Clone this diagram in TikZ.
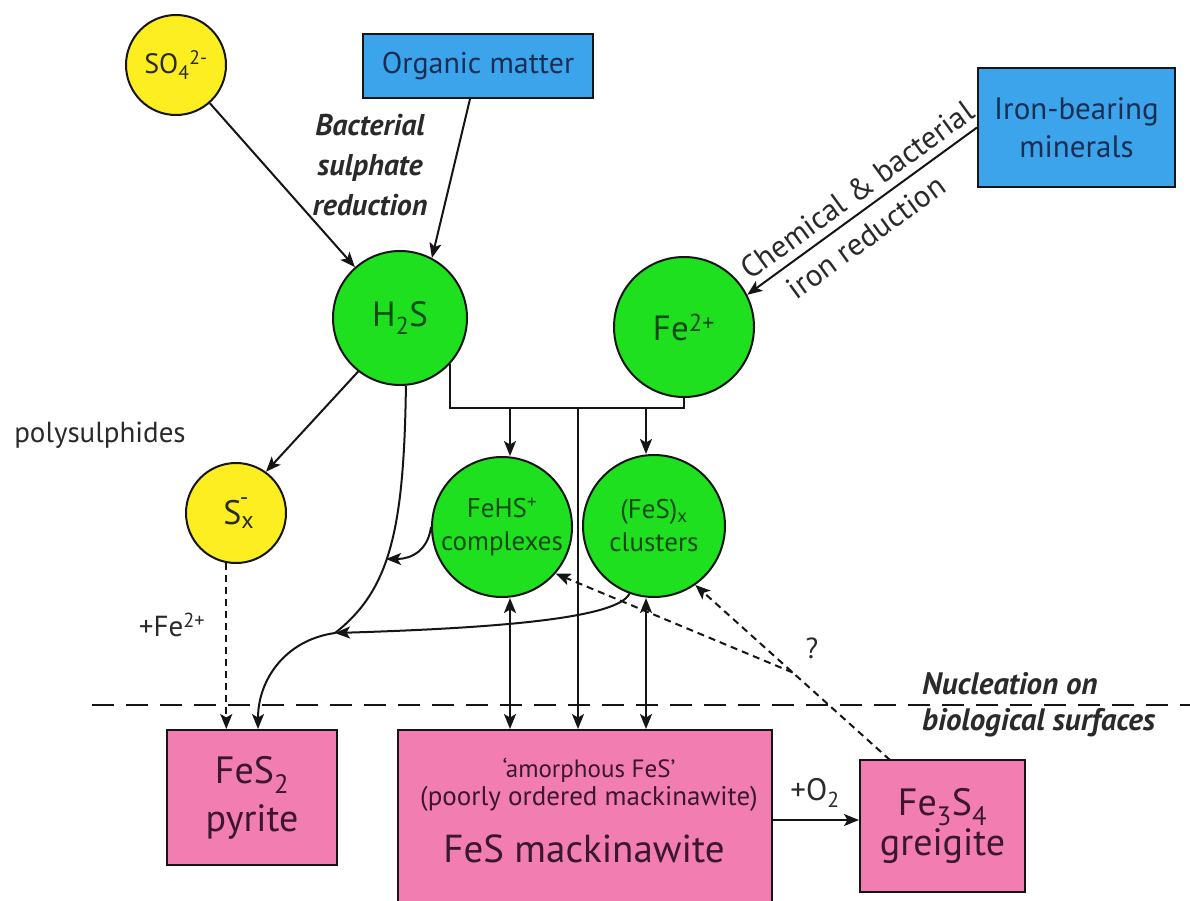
\documentclass[tikz,border=0pt]{standalone}
\usepackage{fontspec}
\setmainfont{PT Sans}
\usetikzlibrary{arrows.meta,calc}
\definecolor{cyel}{HTML}{FCEE21}
\definecolor{cgrn}{HTML}{1EE01E}
\definecolor{cblu}{HTML}{3BA4EA}
\definecolor{cpnk}{HTML}{F27DB1}
\definecolor{tnavy}{HTML}{1A2E55}
\definecolor{tgrn}{HTML}{0E4A12}
\definecolor{tpnk}{HTML}{3A1630}
\definecolor{tgry}{HTML}{2A2A2A}
\definecolor{lin}{HTML}{151515}
\newcommand\fsz[2]{\fontsize{#1}{#2}\selectfont}
\begin{document}
\begin{tikzpicture}[x=1pt,y=-1pt,
  tip/.tip={Stealth[length=15pt,width=12pt,inset=3.5pt]},
  arr/.style={draw=lin, line width=2pt, -tip},
  darr/.style={draw=lin, line width=2pt, tip-tip},
  plain/.style={draw=lin, line width=2pt},
  sdash/.style={dash pattern=on 7pt off 5pt},
  ycirc/.style={circle, draw=lin, line width=2pt, fill=cyel, inner sep=0pt, text=tgry},
  gcirc/.style={circle, draw=lin, line width=2pt, fill=cgrn, inner sep=0pt, text=tgrn, align=center},
  bbox/.style={rectangle, draw=lin, line width=2pt, fill=cblu, inner sep=0pt, text=tnavy, align=center},
  pbox/.style={rectangle, draw=lin, line width=2pt, fill=cpnk, inner sep=0pt, text=tpnk, align=center},
  lbl/.style={inner sep=0pt, text=tgry, align=center},
]
\useasboundingbox (0,0) rectangle (1190,900);
\fill[white] (0,0) rectangle (1190,900);

% nodes
\node[ycirc, minimum size=100pt, font=\fsz{28}{30}] (so4) at (176,65) {SO\textsubscript{4}\textsuperscript{2-}};
\node[bbox, minimum width=230pt, minimum height=64pt, font=\fsz{30}{32}] (org) at (478,66) {Organic matter};
\node[bbox, minimum width=197pt, minimum height=119pt, font=\fsz{31}{38}] (iron) at (1076.5,127.5) {Iron-bearing\\minerals};
\node[gcirc, minimum size=134pt, font=\fsz{35}{40}] (h2s) at (400,318) {H\textsubscript{2}S};
\node[gcirc, minimum size=140pt, font=\fsz{35}{40}] (fe) at (684,327) {Fe\textsuperscript{2+}};
\node[gcirc, minimum size=140pt, font=\fsz{27}{33}] (fehs) at (502,527) {FeHS\textsuperscript{+}\\complexes};
\node[gcirc, minimum size=142pt, font=\fsz{27}{33}] (fesx) at (654,526) {(FeS)\textsubscript{x}\\clusters};
\node[ycirc, minimum size=100pt, font=\fsz{34}{36}] (sx) at (236,513) {S\textsubscript{x}\kern-0.42em\raisebox{0.55em}{\fsz{24}{24}-}};
\node[pbox, minimum width=170pt, minimum height=135pt, font=\fsz{38}{48}] (pyr) at (252,797.5) {FeS\textsubscript{2}\\pyrite};
\node[pbox, minimum width=374pt, minimum height=180pt] (mack) at (585,820) {};
\node[lbl, text=tpnk, font=\fsz{25}{26}] (am) at (589,770) {‘amorphous FeS’};
\node[lbl, text=tpnk, font=\fsz{27}{28}] (po) at (589,799) {(poorly ordered mackinawite)};
\node[lbl, text=tpnk, font=\fsz{39}{40}] (fm) at (584,849) {FeS mackinawite};
\node[pbox, minimum width=165pt, minimum height=132pt, font=\fsz{38}{40}] (greig) at (942.5,826) {Fe\textsubscript{3}S\textsubscript{4}\\greigite};

% labels
\node[lbl, font=\fsz{30}{40}\bfseries\itshape] (bsr) at (370,165) {Bacterial\\sulphate\\reduction};
\node[lbl, rotate=36, font=\fsz{31}{32}] (chem1) at (857,190) {Chemical \& bacterial};
\node[lbl, rotate=36, font=\fsz{31}{32}] (chem2) at (866,237) {iron reduction};
\node[lbl, font=\fsz{29}{30}] (poly) at (100,435) {polysulphides};
\node[lbl, font=\fsz{29}{30}] (pfe) at (172,625) {+Fe\textsuperscript{2+}};
\node[lbl, font=\fsz{29}{30}] (q) at (812,648) {?};
\node[lbl, font=\fsz{31}{32}] (o2) at (815,793) {+O\textsubscript{2}};
\node[lbl, font=\fsz{31}{36}\bfseries\itshape, align=left, anchor=west] (nuc) at (922,705) {Nucleation on\\biological surfaces};

% coordinates
\coordinate (J) at (335,633);
\coordinate (K) at (386,559);
\coordinate (Br) at (684,408);
\coordinate (B1) at (510,408);
\coordinate (B2) at (646,408);
\coordinate (B3) at (578,408);
\coordinate (G) at (890,760);
\coordinate (D0) at (92,705);
\coordinate (D1) at (1190,705);

% connectors
\draw[arr] (so4) -- (h2s);
\draw[arr] ([xshift=-8pt]org.south) -- (h2s.62);
\draw[arr] (iron.west) -- (fe.27);
\draw[arr] (h2s.232) -- (sx.54);
\draw[arr] (h2s.-85) .. controls (404,530) and (390,590) .. (J) .. controls (285,640) and (258,680) .. ([xshift=6pt]pyr.north);
\draw[arr] (fesx.250) .. controls (618,618) and (500,628) .. (J);
\draw[arr] (fehs.west) .. controls (428,550) and (412,559) .. (K);
\draw[plain] (h2s.-43) |- (Br) -- (fe.south);
\draw[arr] (B1) -- (B1 |- fehs.north);
\draw[arr] (B2) -- (B2 |- fesx.north);
\draw[arr] (B3) -- (B3 |- mack.north);
\draw[darr] (B1 |- fehs.south) -- (B1 |- mack.north);
\draw[darr] (B2 |- fesx.south) -- (B2 |- mack.north);
\draw[arr] (mack.east) -- (mack.east -| greig.west);
\draw[arr,sdash] (sx.-101) -- (sx.-101 |- pyr.north);
\draw[arr,sdash] (G) -- (fesx.-55);
\draw[arr,sdash] ($(G)!0.5!(fesx.-55)$) -- (fehs.-41);
\draw[draw=lin, line width=2pt, dash pattern=on 22pt off 12pt] (D0) -- (D1);
\end{tikzpicture}
\end{document}
